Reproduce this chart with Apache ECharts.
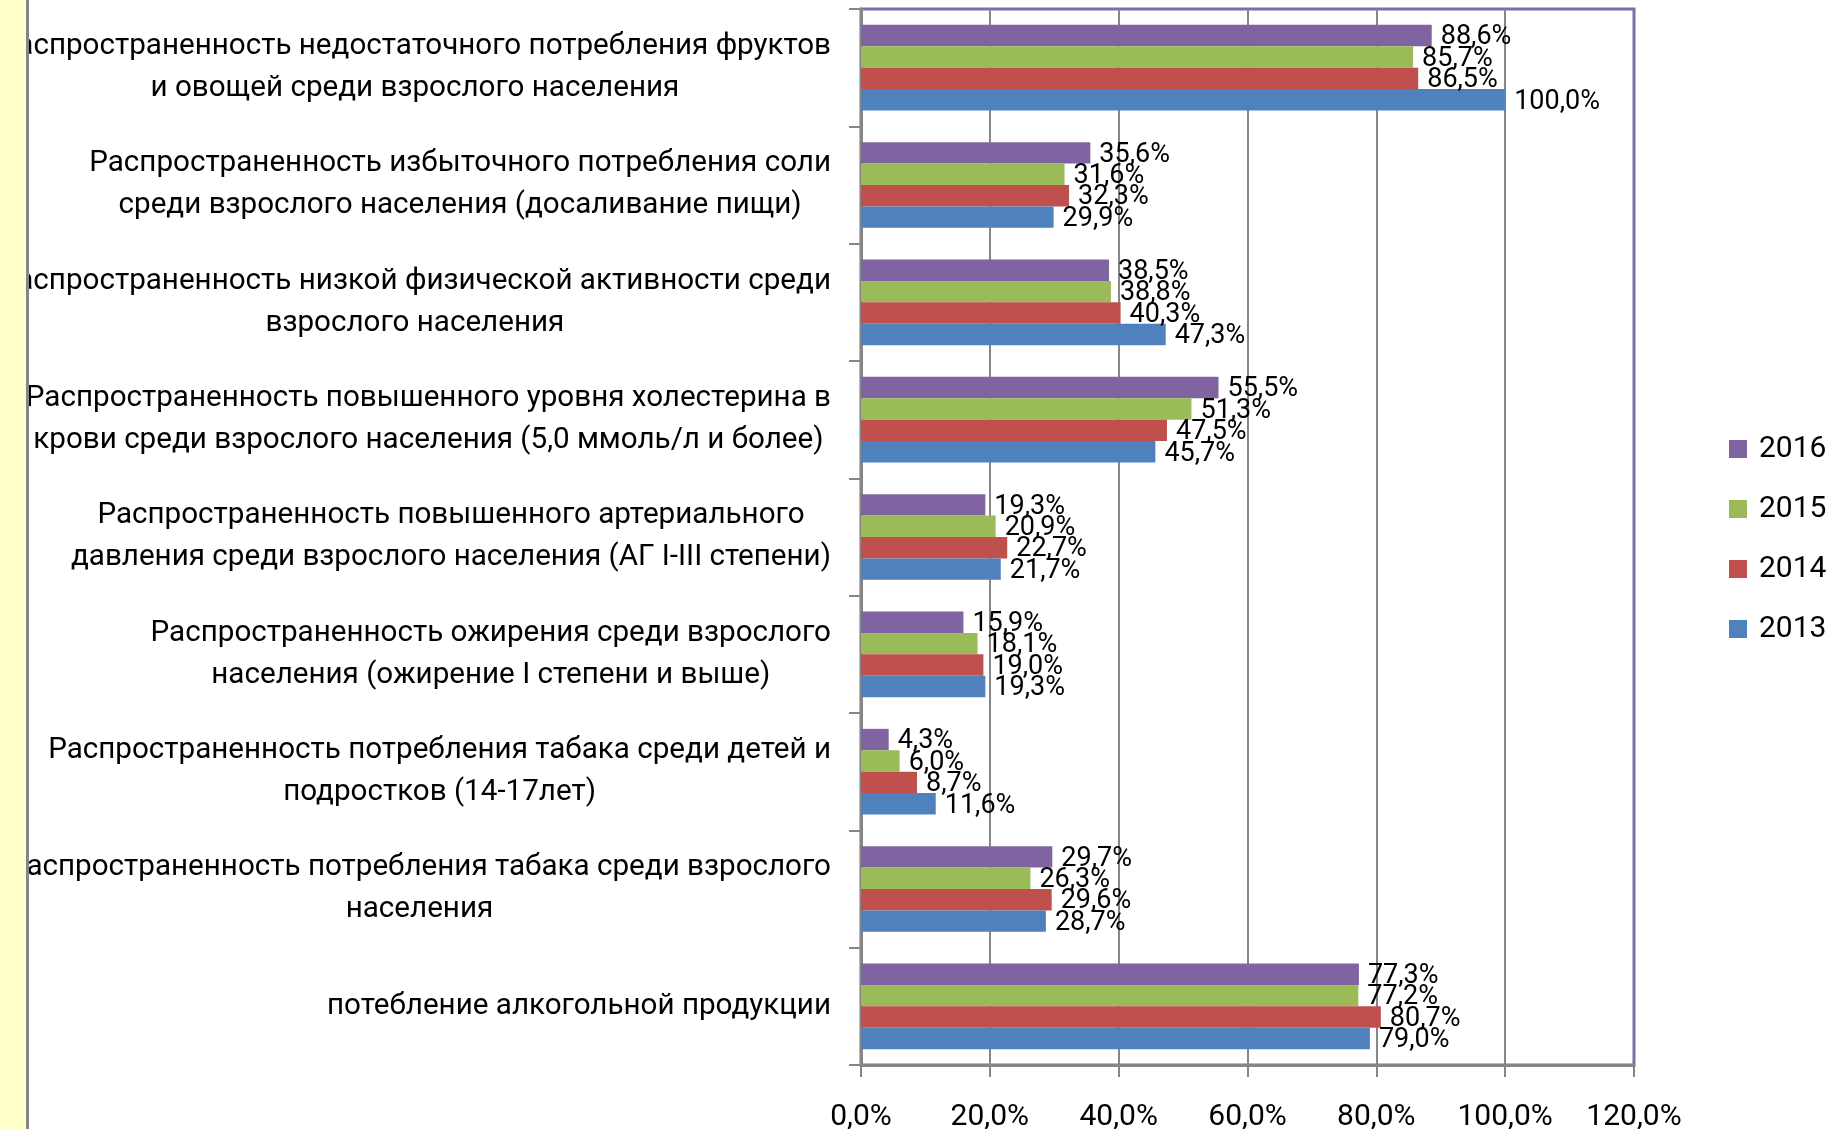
<!DOCTYPE html>
<html lang="ru">

<head>
    <meta charset="utf-8">
    <style type="text/css">
    html, body {
        margin: 0;
        padding: 0;
        background-color: #fff
    }

    #echarts {
        width: 1831px;
        height: 1129px;
    }
    </style>
</head>

<body>
    <div id="echarts"></div>
    <script type="text/javascript" src="https://cdn.jsdelivr.net/npm/echarts@6/dist/echarts.min.js"></script>
    <script type="text/javascript">
    // категории сверху вниз
    var categories = [
        'Распространенность недостаточного потребления фруктов\nи овощей среди взрослого населения',
        'Распространенность избыточного потребления соли\nсреди взрослого населения (досаливание пищи)',
        'Распространенность низкой физической активности среди\nвзрослого населения',
        'Распространенность повышенного уровня холестерина в\nкрови среди взрослого населения (5,0 ммоль/л и более)',
        'Распространенность повышенного артериального\nдавления среди взрослого населения (АГ I-III степени)',
        'Распространенность ожирения среди взрослого\nнаселения (ожирение I степени и выше)',
        'Распространенность потребления табака среди детей и\nподростков (14-17лет)',
        'Распространенность потребления табака среди взрослого\nнаселения',
        'потебление алкогольной продукции'
    ];
    var years = ['2016', '2015', '2014', '2013'];
    var values2016 = [88.6, 35.6, 38.5, 55.5, 19.3, 15.9, 4.3, 29.7, 77.3];
    var values2015 = [85.7, 31.6, 38.8, 51.3, 20.9, 18.1, 6.0, 26.3, 77.2];
    var values2014 = [86.5, 32.3, 40.3, 47.5, 22.7, 19.0, 8.7, 29.6, 80.7];
    var values2013 = [100.0, 29.9, 47.3, 45.7, 21.7, 19.3, 11.6, 28.7, 79.0];
    var colors = ['#8064A2', '#9BBB59', '#C0504D', '#4F81BD'];

    var FONT = 'Roboto';

    function pct(v, d) {
        return v.toFixed(d).replace('.', ',') + '%';
    }

    function makeSeries(name, data, color) {
        return {
            name: name,
            type: 'bar',
            data: data,
            barGap: '0%',
            barCategoryGap: '27%',
            itemStyle: { color: color },
            label: {
                show: true,
                position: 'right',
                distance: 9,
                offset: [0, 2],
                color: '#000',
                fontFamily: FONT,
                fontSize: 27,
                formatter: function(p) { return pct(p.value, 1); }
            }
        };
    }

    var myEcharts = echarts.init(document.getElementById('echarts'));
    var option = {
        animation: false,
        backgroundColor: '#fff',
        textStyle: { fontFamily: FONT },
        grid: {
            left: 861,
            right: 197,
            top: 9,
            bottom: 64,
            outerBoundsMode: 'none',
            show: true,
            borderColor: '#7373a6',
            borderWidth: 3
        },
        legend: {
            orient: 'vertical',
            left: 1729,
            top: 434,
            padding: 0,
            data: years,
            itemWidth: 18,
            itemHeight: 18,
            itemGap: 30,
            icon: 'rect',
            textStyle: { color: '#000', fontSize: 30, fontFamily: FONT, padding: [0, 0, 0, 7] }
        },
        xAxis: {
            type: 'value',
            min: 0,
            max: 120,
            interval: 20,
            axisLine: { show: true, lineStyle: { color: '#868686', width: 3 } },
            axisTick: { show: true, length: 12, lineStyle: { color: '#868686', width: 2 } },
            splitLine: { show: true, showMinLine: false, showMaxLine: false, lineStyle: { color: '#868686', width: 2 } },
            axisLabel: {
                margin: 37,
                color: '#000',
                fontSize: 30,
                fontFamily: FONT,
                formatter: function(v) { return pct(v, 1); }
            }
        },
        yAxis: {
            type: 'category',
            inverse: true,
            data: categories,
            axisLine: { show: true, lineStyle: { color: '#868686', width: 3 } },
            axisTick: { show: true, length: 12, lineStyle: { color: '#868686', width: 2 } },
            axisLabel: {
                margin: 30,
                align: 'right',
                color: '#000',
                fontFamily: FONT,
                fontSize: 29.6,
                lineHeight: 42,
                formatter: function(v) {
                    return v.split('\n').map(function(s) { return '{c|' + s + '}'; }).join('\n');
                },
                rich: {
                    c: { align: 'center', fontSize: 29.6, lineHeight: 42, fontFamily: FONT, color: '#000' }
                }
            }
        },
        graphic: [{
            type: 'rect',
            z: 100,
            shape: { x: 0, y: 0, width: 26, height: 1129 },
            style: { fill: '#ffffcc' }
        }, {
            type: 'rect',
            z: 100,
            shape: { x: 26, y: 0, width: 3, height: 1129 },
            style: { fill: '#868686' }
        }],
        series: [
            makeSeries('2016', values2016, colors[0]),
            makeSeries('2015', values2015, colors[1]),
            makeSeries('2014', values2014, colors[2]),
            makeSeries('2013', values2013, colors[3])
        ]
    };
    myEcharts.setOption(option);
    </script>
</body>

</html>
